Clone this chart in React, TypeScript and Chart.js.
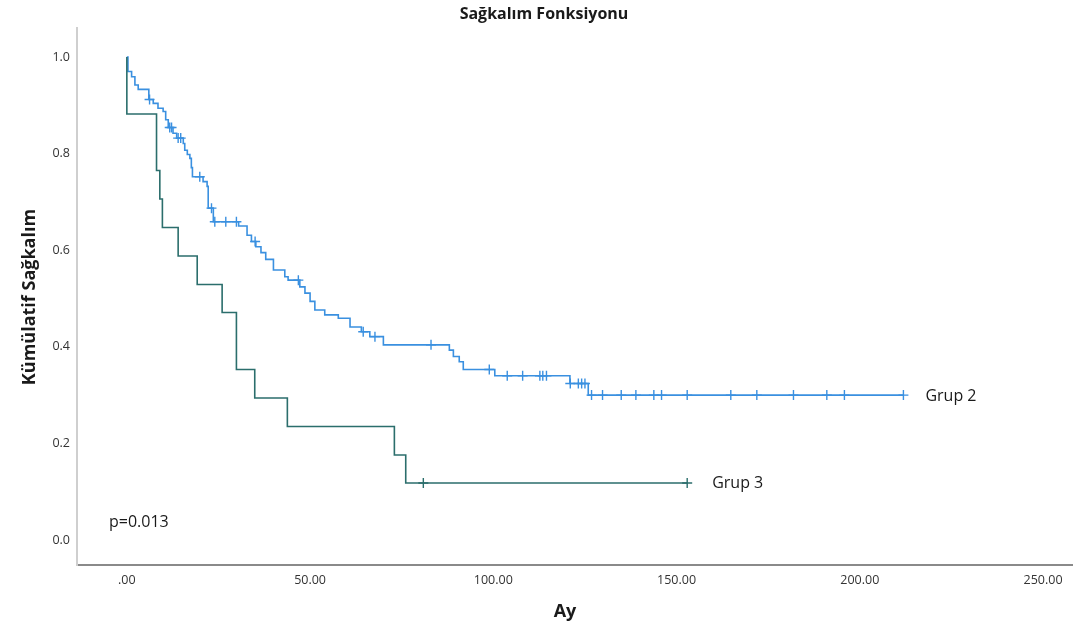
import React, { useEffect, useRef } from 'react';
import { Chart, registerables } from 'chart.js';

Chart.register(...registerables);

const chartTitle = 'Sağkalım Fonksiyonu';
const xAxisTitle = 'Ay';
const yAxisTitle = 'Kümülatif Sağkalım';
const pValueText = 'p=0.013';

const xTickValues = [0, 50, 100, 150, 200, 250];
const xTickLabels = ['.00', '50.00', '100.00', '150.00', '200.00', '250.00'];
const yTickValues = [0, 0.2, 0.4, 0.6, 0.8, 1.0];
const yTickLabels = ['0.0', '0.2', '0.4', '0.6', '0.8', '1.0'];

// Grup 2: event times (months) and survival after each step
const grup2Label = 'Grup 2';
const grup2Times = [0, 0.3, 1.3, 2.2, 3.1, 6.0, 7.2, 8.5, 9.9, 10.6, 11.3, 12.6, 13.6, 15.4, 15.8, 16.5, 17.2, 17.6, 17.9, 20.8, 21.9, 22.2, 23.6, 30.5, 32.8, 34.0, 35.2, 36.6, 37.9, 40.0, 43.1, 44.0, 47.2, 48.6, 50.0, 51.3, 54.0, 57.7, 60.9, 64.0, 66.3, 70.0, 88.0, 89.1, 90.7, 91.8, 100.4, 120.9, 125.9, 211.9];
const grup2Surv = [1.0, 0.97, 0.959, 0.942, 0.933, 0.912, 0.904, 0.894, 0.887, 0.87, 0.854, 0.842, 0.832, 0.821, 0.807, 0.798, 0.79, 0.771, 0.752, 0.742, 0.732, 0.687, 0.659, 0.65, 0.631, 0.618, 0.607, 0.595, 0.581, 0.559, 0.545, 0.538, 0.524, 0.511, 0.494, 0.476, 0.466, 0.459, 0.441, 0.431, 0.421, 0.404, 0.393, 0.38, 0.369, 0.353, 0.34, 0.324, 0.3, 0.3];
const grup2Censored = [6.2, 11.7, 12.2, 14.0, 14.7, 19.9, 23.1, 24.0, 27.0, 29.9, 35.0, 46.8, 64.5, 67.7, 83.0, 98.9, 103.8, 108.0, 112.7, 113.5, 114.5, 121.0, 123.2, 124.1, 125.0, 126.8, 129.8, 134.9, 138.9, 143.8, 145.9, 152.9, 164.8, 171.9, 181.9, 191.0, 195.8, 211.9];

// Grup 3
const grup3Label = 'Grup 3';
const grup3Times = [0, 0, 8.1, 9.0, 9.7, 14.0, 19.2, 26.0, 29.9, 34.9, 43.8, 73.0, 76.1, 152.9];
const grup3Surv = [1.0, 0.882, 0.765, 0.706, 0.647, 0.588, 0.529, 0.471, 0.353, 0.294, 0.235, 0.176, 0.118, 0.118];
const grup3Censored = [80.9, 152.9];

const grup2Color = '#3a90e0';
const grup3Color = '#2b6e6c';
const FONT = '"Open Sans", "DejaVu Sans", sans-serif';

function survAt(times: number[], surv: number[], t: number): number {
  let s = surv[0];
  for (let i = 0; i < times.length; i++) {
    if (times[i] <= t) s = surv[i];
  }
  return s;
}

const annotationPlugin = {
  id: 'kmAnnotations',
  afterDraw(chart: any) {
    const { ctx, chartArea, scales } = chart;
    const xs = scales.x;
    const ys = scales.y;
    ctx.save();
    ctx.fillStyle = '#1a1a1a';
    // chart title
    ctx.font = `bold 16px ${FONT}`;
    ctx.textAlign = 'center';
    ctx.textBaseline = 'middle';
    ctx.fillText(chartTitle, 544, 14);
    // axis titles
    ctx.font = `bold 18px ${FONT}`;
    ctx.fillText(xAxisTitle, 565, 612);
    ctx.save();
    ctx.translate(30, 297);
    ctx.rotate(-Math.PI / 2);
    ctx.fillText(yAxisTitle, 0, 0);
    ctx.restore();
    // group labels
    ctx.font = `16px ${FONT}`;
    ctx.textAlign = 'left';
    const g2t = grup2Times[grup2Times.length - 1];
    const g2s = grup2Surv[grup2Surv.length - 1];
    ctx.fillText(grup2Label, xs.getPixelForValue(g2t) + 22, ys.getPixelForValue(g2s) + 1);
    const g3t = grup3Times[grup3Times.length - 1];
    const g3s = grup3Surv[grup3Surv.length - 1];
    ctx.fillText(grup3Label, xs.getPixelForValue(g3t) + 25, ys.getPixelForValue(g3s));
    // p value
    ctx.fillText(pValueText, chartArea.left + 32, chartArea.bottom - 43);
    ctx.restore();
  },
};

export default function App() {
  const canvasRef = useRef<HTMLCanvasElement | null>(null);

  useEffect(() => {
    document.body.style.margin = '0';
    const canvas = canvasRef.current;
    if (!canvas) return;

    const g2Line = grup2Times.map((t, i) => ({ x: t, y: grup2Surv[i] }));
    const g3Line = grup3Times.map((t, i) => ({ x: t, y: grup3Surv[i] }));
    const g2Cens = grup2Censored.map((t) => ({ x: t, y: survAt(grup2Times, grup2Surv, t) }));
    const g3Cens = grup3Censored.map((t) => ({ x: t, y: survAt(grup3Times, grup3Surv, t) }));

    const chart = new Chart(canvas, {
      type: 'scatter',
      data: {
        datasets: [
          {
            label: grup3Label,
            data: g3Line,
            showLine: true,
            stepped: 'before',
            borderColor: grup3Color,
            borderWidth: 1.6,
            pointRadius: 0,
            fill: false,
          },
          {
            label: grup3Label + ' censored',
            data: g3Cens,
            showLine: false,
            pointStyle: 'cross',
            pointRadius: 5,
            borderColor: grup3Color,
            borderWidth: 1.4,
          },
          {
            label: grup2Label,
            data: g2Line,
            showLine: true,
            stepped: 'before',
            borderColor: grup2Color,
            borderWidth: 1.6,
            pointRadius: 0,
            fill: false,
          },
          {
            label: grup2Label + ' censored',
            data: g2Cens,
            showLine: false,
            pointStyle: 'cross',
            pointRadius: 5,
            borderColor: grup2Color,
            borderWidth: 1.4,
          },
        ] as any,
      },
      options: {
        animation: false,
        responsive: false,
        maintainAspectRatio: false,
        layout: { padding: { top: 28, right: 12, left: 0, bottom: 0 } },
        plugins: {
          legend: { display: false },
          title: { display: false },
          tooltip: { enabled: false },
        },
        scales: {
          x: {
            type: 'linear',
            min: -13.6,
            max: 257.9,
            grid: { display: false, drawTicks: false },
            border: { display: true, color: '#8a8a8a', width: 2 },
            afterBuildTicks: (scale: any) => {
              scale.ticks = xTickValues.map((v) => ({ value: v }));
            },
            afterFit: (scale: any) => {
              scale.height = 73;
            },
            ticks: {
              padding: 8,
              color: '#333',
              font: { family: FONT, size: 12.5 },
              maxRotation: 0,
              autoSkip: false,
              callback: (value: any) => {
                const i = xTickValues.indexOf(Number(value));
                return i >= 0 ? xTickLabels[i] : '';
              },
            },
          },
          y: {
            type: 'linear',
            min: -0.0518,
            max: 1.06,
            grid: { display: false, drawTicks: false },
            border: { display: true, color: '#cfcfcf', width: 2 },
            afterBuildTicks: (scale: any) => {
              scale.ticks = yTickValues.map((v) => ({ value: v }));
            },
            afterFit: (scale: any) => {
              scale.width = 77;
            },
            ticks: {
              padding: 7,
              color: '#333',
              font: { family: FONT, size: 12.5 },
              autoSkip: false,
              callback: (value: any) => {
                const i = yTickValues.findIndex((v) => Math.abs(v - Number(value)) < 1e-6);
                return i >= 0 ? yTickLabels[i] : '';
              },
            },
          },
        },
      },
      plugins: [annotationPlugin],
    });

    return () => {
      chart.destroy();
    };
  }, []);

  return (
    <div style={{ width: 1084, height: 638, background: '#fff' }}>
      <canvas ref={canvasRef} width={1084} height={638} style={{ display: 'block' }} />
    </div>
  );
}
